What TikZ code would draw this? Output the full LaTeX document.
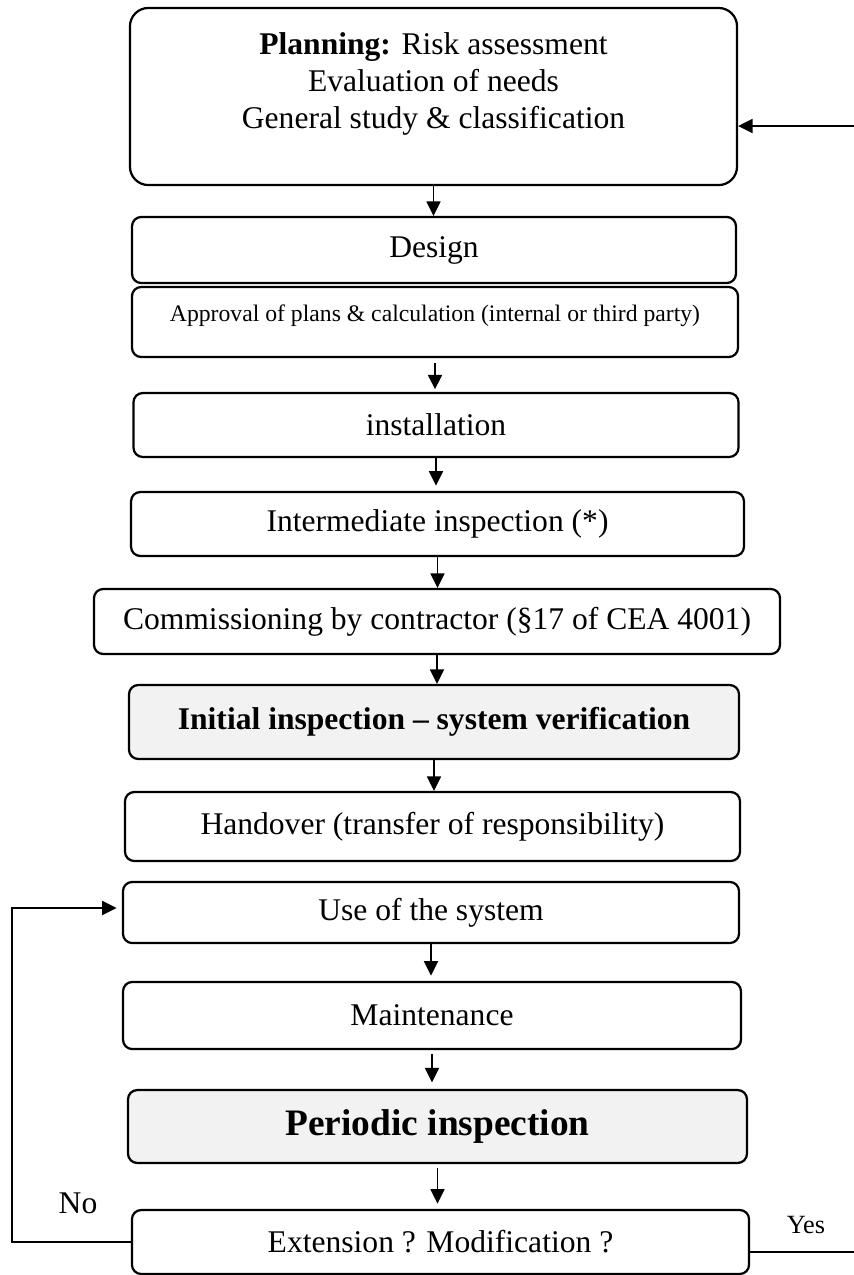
\documentclass[tikz,border=0pt]{standalone}
\usepackage{fontspec}
\setmainfont{Liberation Serif}
\usepackage{tikz}
\usepackage{xcolor}
\usetikzlibrary{arrows.meta}

\definecolor{inspgray}{RGB}{242,242,242}

\begin{document}
\begin{tikzpicture}[x=0.38pt,y=-0.38pt,
    stepbox/.style={draw,line width=0.85pt,rounded corners=3.5pt,align=center,
        inner sep=1pt,font=\fontsize{12}{14.1}\selectfont},
    keybox/.style={stepbox,fill=inspgray,font=\fontsize{12}{14.1}\selectfont\bfseries},
    flow/.style={line width=0.75pt,-{Triangle[length=5.5pt,width=5.3pt]}}]

    % Frame
    \useasboundingbox (0,0) rectangle (854,1275);

    % Planning
    \node [stepbox,rounded corners=7pt,minimum width=230.7pt,minimum height=67.3pt]
        (plan) at (433.5,96.5) {};
    \node [align=center,font=\fontsize{12}{14.1}\selectfont] (plantext) at (433.5,84)
        {\textbf{Planning:} Risk assessment\\Evaluation of needs\\General study \& classification};

    % Design and approval
    \node [stepbox,minimum width=229.5pt,minimum height=25.1pt] (design) at (434,250) {Design};
    \node [stepbox,minimum width=230.3pt,minimum height=26.6pt] (approval) at (435,322) {};
    \node [font=\fontsize{9}{11}\selectfont] (approvaltext) at (435,316)
        {Approval of plans \& calculation (internal or third party)};

    % Installation
    \node [stepbox,minimum width=229.9pt,minimum height=24.3pt] (install) at (436,425) {installation};
    \node [stepbox,minimum width=232.9pt,minimum height=24.3pt] (inter) at (437.5,524) {Intermediate inspection (*)};
    \node [stepbox,minimum width=260.7pt,minimum height=24.7pt] (commiss) at (437,621.5)
        {Commissioning by contractor (\S17 of CEA 4001)};

    % Initial inspection
    \node [keybox,minimum width=231.8pt,minimum height=28.1pt] (initial) at (434,722)
        {Initial inspection -- system verification};
    \node [stepbox,minimum width=233.7pt,minimum height=26.2pt] (handover) at (432.5,826.5)
        {Handover (transfer of responsibility)};

    % Operation
    \node [stepbox,minimum width=234.1pt,minimum height=23.2pt] (use) at (431,912.5) {Use of the system};
    \node [stepbox,minimum width=234.8pt,minimum height=25.5pt] (maint) at (432,1015.5) {Maintenance};
    \node [keybox,minimum width=235.2pt,minimum height=27.7pt,font=\fontsize{14.2}{17}\selectfont\bfseries]
        (periodic) at (437.5,1126.5) {Periodic inspection};
    \node [stepbox,minimum width=234.5pt,minimum height=24.3pt] (ext) at (440.5,1242)
        {Extension ? Modification ?};

    % Arrows down
    \draw [flow] (plan.south) -- (plan.south |- design.north);
    \draw [flow] ([yshift=-2pt]approval.south) -- ([yshift=1pt]approval.south |- install.north);
    \draw [flow] (install.south) -- ([yshift=2pt]install.south |- inter.north);
    \draw [flow] (inter.south) -- (inter.south |- commiss.north);
    \draw [flow] (commiss.south) -- (commiss.south |- initial.north);
    \draw [flow] (initial.south) -- (initial.south |- handover.north);
    \draw [flow] (use.south) -- ([yshift=2pt]use.south |- maint.north);
    \draw [flow] ([yshift=-1.5pt]maint.south) -- ([yshift=2.5pt]maint.south |- periodic.north);
    \draw [flow] ([yshift=-1.5pt]periodic.south) -- ([yshift=2pt]periodic.south |- ext.north);

    % No: back to use
    \coordinate (noturn) at (12,908);
    \draw [flow,shorten >=2pt] (ext.west) -| (noturn) -- (use.west |- noturn);
    \node [font=\fontsize{12}{14}\selectfont] (nolabel) at (78,1203) {No};

    % Yes: back to planning
    \coordinate (yesend) at (854,1252);
    \draw [line width=0.75pt] (ext.east |- yesend) -- (yesend);
    \node [font=\fontsize{10}{12}\selectfont] (yeslabel) at (806,1225) {Yes};
    \coordinate (backin) at (854,126);
    \draw [flow] (backin) -- (plan.east |- backin);
\end{tikzpicture}
\end{document}
